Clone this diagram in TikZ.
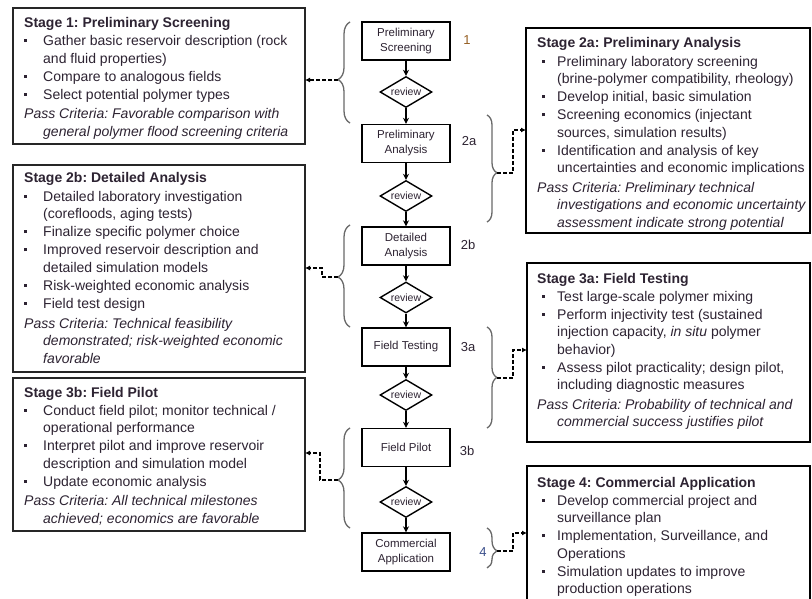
\documentclass[tikz,border=0pt]{standalone}
\usepackage{fontspec}
\setmainfont{Liberation Sans}
\usetikzlibrary{shapes.geometric,arrows.meta,decorations.pathreplacing}
\frenchspacing
\definecolor{txt}{RGB}{45,35,50}
\definecolor{bracegray}{RGB}{105,105,105}
\definecolor{numorange}{RGB}{150,95,35}
\definecolor{numblue}{RGB}{60,80,140}
\newcommand{\sqbul}{\raisebox{3.5pt}{\rule{2.8pt}{2.8pt}}}
\newcommand{\lbul}[1]{\par\hangindent=19pt\hangafter=1\noindent\makebox[19pt][l]{\sqbul}#1}
\newcommand{\rbul}[1]{\par\hangindent=20pt\hangafter=1\noindent\hspace*{5pt}\makebox[15pt][l]{\sqbul}#1}
\newcommand{\lpass}[1]{\par\vspace{1.5pt}\hangindent=19pt\hangafter=1\noindent\textit{#1}}
\newcommand{\rpass}[1]{\par\vspace{1.5pt}\hangindent=20pt\hangafter=1\noindent\textit{#1}}
\newcommand{\stagetext}[1]{\parbox[t]{292pt}{\fontsize{14}{17.5}\selectfont\frenchspacing\parskip=0.6pt\raggedright\noindent\color{txt}#1}}
\begin{document}
\begin{tikzpicture}[x=1pt,y=-1pt,
  stagebox/.style={draw=black!85, line width=1.4pt, inner sep=0pt, outer sep=0pt, anchor=north west},
  rstagebox/.style={draw=black, line width=1.9pt, inner sep=0pt, outer sep=0pt, anchor=north west},
  stagetxt/.style={anchor=base west, inner sep=0pt},
  flowbox/.style={draw=black, line width=1.4pt, minimum width=88pt, minimum height=38pt, inner sep=1pt, align=center, text=txt, font=\fontsize{11.5}{15}\selectfont},
  revbox/.style={diamond, draw=black, line width=1.4pt, aspect=1.7, minimum width=52pt, minimum height=31pt, inner sep=0pt, text=txt, font=\fontsize{10.5}{12}\selectfont},
  flowarrow/.style={line width=1.4pt, -{Stealth[length=6pt,width=6pt]}},
  numlabel/.style={inner sep=0pt, font=\fontsize{13}{15}\selectfont},
  bracestyle/.style={draw=bracegray, line width=1.3pt, decorate},
  dasharrow/.style={line width=1.5pt, dash pattern=on 4pt off 2pt, -{Latex[length=5pt,width=5pt]}}
]
\clip (0,0) rectangle (812,599);
\fill[white] (0,0) rectangle (812,599);

% ---------- left stage boxes ----------
\node[stagebox, minimum width=292pt, minimum height=136pt] (s1) at (13,8) {};
\node[stagetxt] (t1) at (24,27.5) {\stagetext{%
\textbf{Stage 1: Preliminary Screening}
\lbul{Gather basic reservoir description (rock\newline and fluid properties)}
\lbul{Compare to analogous fields}
\lbul{Select potential polymer types}
\lpass{Pass Criteria: Favorable comparison with\newline general polymer flood screening criteria}}};

\node[stagebox, minimum width=292pt, minimum height=207pt] (s2b) at (13,165) {};
\node[stagetxt] (t2b) at (24,183) {\stagetext{%
\textbf{Stage 2b: Detailed Analysis}
\lbul{Detailed laboratory investigation\newline (corefloods, aging tests)}
\lbul{Finalize specific polymer choice}
\lbul{Improved reservoir description and\newline detailed simulation models}
\lbul{Risk-weighted economic analysis}
\lbul{Field test design}
\lpass{Pass Criteria: Technical feasibility\newline demonstrated; risk-weighted economic\newline favorable}}};

\node[stagebox, minimum width=292pt, minimum height=153pt] (s3b) at (13,378) {};
\node[stagetxt] (t3b) at (24,397) {\stagetext{%
\textbf{Stage 3b: Field Pilot}
\lbul{Conduct field pilot; monitor technical /\newline operational performance}
\lbul{Interpret pilot and improve reservoir\newline description and simulation model}
\lbul{Update economic analysis}
\lpass{Pass Criteria: All technical milestones\newline achieved; economics are favorable}}};

% ---------- right stage boxes ----------
\node[rstagebox, minimum width=284pt, minimum height=205pt] (r2a) at (526,28) {};
\node[stagetxt] (u2a) at (537,48) {\stagetext{%
\textbf{Stage 2a: Preliminary Analysis}
\rbul{Preliminary laboratory screening\newline (brine-polymer compatibility, rheology)}
\rbul{Develop initial, basic simulation}
\rbul{Screening economics (injectant\newline sources, simulation results)}
\rbul{Identification and analysis of key\newline uncertainties and economic implications}
\rpass{Pass Criteria: Preliminary technical\newline investigations and economic uncertainty\newline assessment indicate strong potential}}};

\node[rstagebox, minimum width=283pt, minimum height=179pt] (r3a) at (527,263) {};
\node[stagetxt] (u3a) at (537,283) {\stagetext{%
\textbf{Stage 3a: Field Testing}
\rbul{Test large-scale polymer mixing}
\rbul{Perform injectivity test (sustained\newline injection capacity, \textit{in situ} polymer\newline behavior)}
\rbul{Assess pilot practicality; design pilot,\newline including diagnostic measures}
\rpass{Pass Criteria: Probability of technical and\newline commercial success justifies pilot}}};

\node[rstagebox, minimum width=283pt, minimum height=140pt] (r4) at (527,466) {};
\node[stagetxt] (u4) at (537,487) {\stagetext{%
\textbf{Stage 4: Commercial Application}
\rbul{Develop commercial project and\newline surveillance plan}
\rbul{Implementation, Surveillance, and\newline Operations}
\rbul{Simulation updates to improve\newline production operations}}};

% ---------- centre flow ----------
\node[flowbox] (ps) at (406,41) {Preliminary\\Screening};
\node[revbox] (v1) at (406,92) {review};
\node[flowbox] (pa) at (406,143.5) {Preliminary\\Analysis};
\node[revbox] (v2) at (406,196) {review};
\node[flowbox] (da) at (406,246) {Detailed\\Analysis};
\node[revbox] (v3) at (406,297.5) {review};
\node[flowbox] (ft) at (406,347) {Field Testing};
\node[revbox] (v4) at (406,395) {review};
\node[flowbox] (fp) at (406,447.5) {Field Pilot};
\node[revbox] (v5) at (406,502) {review};
\node[flowbox] (ca) at (406,552) {Commercial\\Application};

\draw[flowarrow] (ps) -- (v1);
\draw[flowarrow] (v1) -- (pa);
\draw[flowarrow] (pa) -- (v2);
\draw[flowarrow] (v2) -- (da);
\draw[flowarrow] (da) -- (v3);
\draw[flowarrow] (v3) -- (ft);
\draw[flowarrow] (ft) -- (v4);
\draw[flowarrow] (v4) -- (fp);
\draw[flowarrow] (fp) -- (v5);
\draw[flowarrow] (v5) -- (ca);

\node[numlabel, text=numorange] (n1) at (467,40) {1};
\node[numlabel, text=txt] (n2a) at (469,141) {2a};
\node[numlabel, text=txt] (n2b) at (468,245) {2b};
\node[numlabel, text=txt] (n3a) at (468,347) {3a};
\node[numlabel, text=txt] (n3b) at (467,451) {3b};
\node[numlabel, text=numblue] (n4) at (483,552) {4};

% ---------- braces ----------
\draw[bracestyle, decoration={brace, amplitude=12pt, aspect=0.43}] (350,123) -- (350,22);
\draw[bracestyle, decoration={brace, amplitude=12pt, aspect=0.49}] (350,327) -- (350,225);
\draw[bracestyle, decoration={brace, amplitude=12pt, aspect=0.48}] (350,528) -- (350,428);
\draw[bracestyle, decoration={brace, amplitude=10pt, aspect=0.54}] (487,115) -- (487,222);
\draw[bracestyle, decoration={brace, amplitude=10pt, aspect=0.50}] (487,327) -- (487,428);
\draw[bracestyle, decoration={brace, amplitude=10pt, aspect=0.57}] (487,528) -- (487,568);

\coordinate (b1) at (338,80);
\coordinate (b2b) at (338,277);
\coordinate (b3b) at (338,480);
\coordinate (b2a) at (497,173);
\coordinate (b3a) at (497,378);
\coordinate (b4) at (497,551);
\coordinate (j2b) at (322,268);
\coordinate (j3b) at (320,453);
\coordinate (j2a) at (513,130);
\coordinate (j3a) at (513,350);
\coordinate (j4) at (513,533);

% ---------- dashed connectors ----------
\draw[dasharrow] (b1) -- (b1 -| s1.east);
\draw[dasharrow] (b2b) -| (j2b) -- (j2b -| s2b.east);
\draw[dasharrow] (b3b) -| (j3b) -- (j3b -| s3b.east);
\draw[dasharrow] (b2a) -| (j2a) -- (j2a -| r2a.west);
\draw[dasharrow] (b3a) -| (j3a) -- (j3a -| r3a.west);
\draw[dasharrow] (b4) -| (j4) -- (j4 -| r4.west);
\end{tikzpicture}
\end{document}
